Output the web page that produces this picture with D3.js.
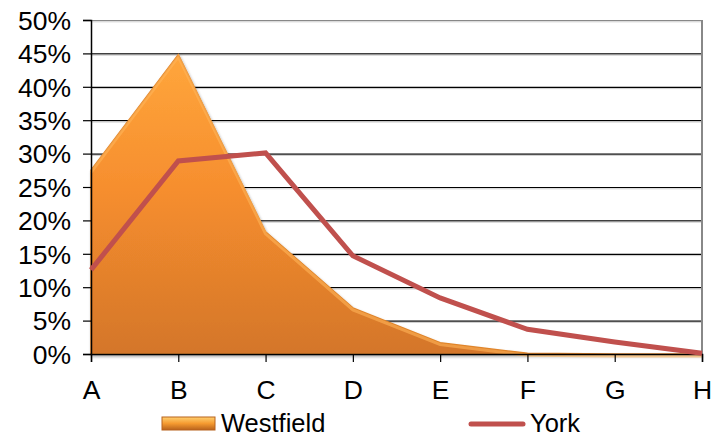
<!DOCTYPE html>
<html><head><meta charset="utf-8">
<script src="https://cdn.jsdelivr.net/npm/d3@7"></script>
<style>body{margin:0;background:#fff}svg{display:block;font-family:"Liberation Sans",Arial,sans-serif}</style>
</head><body>
<script>
const categories = ["A","B","C","D","E","F","G","H"];
const westfield = [0.275, 0.448, 0.183, 0.069, 0.017, 0.001, 0, 0];
const york = [0.126, 0.289, 0.301, 0.147, 0.084, 0.037, 0.018, 0.001];
const yTicks = [0,0.05,0.1,0.15,0.2,0.25,0.3,0.35,0.4,0.45,0.5];
const seriesNames = ["Westfield","York"];

const W=713,H=437;
const FS=26.5;
const svg=d3.select("body").append("svg").attr("width",W).attr("height",H);
const x=d3.scalePoint().domain(categories).range([91,702]);
const y=d3.scaleLinear().domain([0,0.5]).range([354,20]);

const defs=svg.append("defs");
const g1=defs.append("linearGradient").attr("id","af").attr("x1",0).attr("y1",0).attr("x2",0).attr("y2",1);
g1.append("stop").attr("offset","0%").attr("stop-color","#FFA63C");
g1.append("stop").attr("offset","45%").attr("stop-color","#F68E2E");
g1.append("stop").attr("offset","100%").attr("stop-color","#D4762A");
const g2=defs.append("linearGradient").attr("id","lg").attr("x1",0).attr("y1",0).attr("x2",0).attr("y2",1);
g2.append("stop").attr("offset","0%").attr("stop-color","#FFD070");
g2.append("stop").attr("offset","50%").attr("stop-color","#F59A30");
g2.append("stop").attr("offset","100%").attr("stop-color","#B8621C");
const flt=defs.append("filter").attr("id","sh").attr("x","-5%").attr("y","-5%").attr("width","110%").attr("height","115%");
flt.append("feGaussianBlur").attr("in","SourceAlpha").attr("stdDeviation",1.5);
flt.append("feOffset").attr("dx",1).attr("dy",2).attr("result","b");
flt.append("feComponentTransfer").append("feFuncA").attr("type","linear").attr("slope",0.35);
const m=flt.append("feMerge");m.append("feMergeNode");m.append("feMergeNode").attr("in","SourceGraphic");

// gridlines
svg.append("g").selectAll("line").data(yTicks.slice(1)).join("line")
  .attr("x1",91).attr("x2",702).attr("y1",d=>y(d)+0.5).attr("y2",d=>y(d)+0.5)
  .attr("stroke",d=>d===0.5?"#888":"#000").attr("stroke-width",1.2);
svg.append("g").selectAll("line").data(yTicks.slice(1)).join("line")
  .attr("x1",91).attr("x2",702).attr("y1",d=>y(d)+1.8).attr("y2",d=>y(d)+1.8)
  .attr("stroke","#ccc").attr("stroke-width",1);
svg.append("line").attr("x1",702).attr("x2",702).attr("y1",y(0.5)).attr("y2",y(0))
  .attr("stroke","#888").attr("stroke-width",2);

// area
const area=d3.area().x((d,i)=>x(categories[i])).y0(y(0)).y1(d=>y(d));
svg.append("path").datum(westfield).attr("d",area).attr("fill","url(#af)")
  .attr("stroke","#E0852C").attr("stroke-width",1.5).attr("filter","url(#sh)");
const topLine=d3.line().x((d,i)=>x(categories[i])).y(d=>y(d)+2);
svg.append("path").datum(westfield).attr("d",topLine).attr("fill","none")
  .attr("stroke","#FFB458").attr("stroke-width",3).attr("opacity",0.6);

// axes
const yAxis=d3.axisLeft(y).tickValues(yTicks).tickFormat(d3.format(".0%")).tickSize(8).tickPadding(12);
const ya=svg.append("g").attr("transform","translate(91,0)").call(yAxis);
ya.attr("font-size",FS).attr("font-family","Liberation Sans, Arial, sans-serif");
ya.select(".domain").attr("stroke","#000").attr("stroke-width",1.5);
ya.selectAll(".tick line").attr("stroke","#000").attr("stroke-width",1.2);
ya.selectAll("text").attr("fill","#000").attr("dy","0.35em");

const xAxis=d3.axisBottom(x).tickSize(8).tickPadding(18);
const xa=svg.append("g").attr("transform","translate(0,354)").call(xAxis);
xa.attr("font-size",FS).attr("font-family","Liberation Sans, Arial, sans-serif");
xa.select(".domain").attr("stroke","#000").attr("stroke-width",1.5);
xa.selectAll(".tick line").attr("stroke","#000").attr("stroke-width",1.2);
xa.selectAll("text").attr("fill","#000");

// line
const line=d3.line().x((d,i)=>x(categories[i])).y(d=>y(d));
svg.append("path").datum(york).attr("d",line).attr("fill","none")
  .attr("stroke","#C0504D").attr("stroke-width",5).attr("stroke-linejoin","miter");

// legend
const lg=svg.append("g").attr("font-size",25.5);
lg.append("rect").attr("x",162).attr("y",417).attr("width",53).attr("height",13).attr("fill","url(#lg)").attr("stroke","#B8621C").attr("stroke-width",1);
lg.append("text").attr("x",221).attr("y",432).text(seriesNames[0]);
lg.append("line").attr("x1",471).attr("x2",523).attr("y1",424).attr("y2",424).attr("stroke","#C0504D").attr("stroke-width",5).attr("stroke-linecap","round");
lg.append("text").attr("x",530).attr("y",432).text(seriesNames[1]);
</script>
</body></html>
